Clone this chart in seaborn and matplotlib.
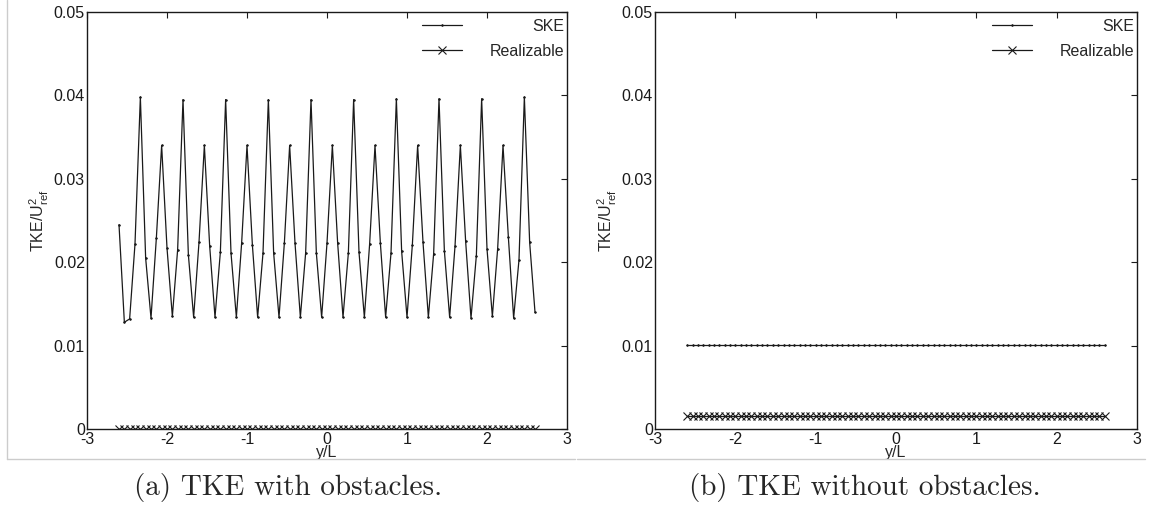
import matplotlib
matplotlib.use("Agg")
import matplotlib.pyplot as plt
from matplotlib.lines import Line2D
import seaborn as sns

# y/L stations (same grid for all series)
y_over_L = [
    -2.600, -2.533, -2.467, -2.400, -2.333, -2.267, -2.200, -2.133, -2.067, -2.000,
    -1.933, -1.867, -1.800, -1.733, -1.667, -1.600, -1.533, -1.467, -1.400, -1.333,
    -1.267, -1.200, -1.133, -1.067, -1.000, -0.933, -0.867, -0.800, -0.733, -0.667,
    -0.600, -0.533, -0.467, -0.400, -0.333, -0.267, -0.200, -0.133, -0.067, 0.000,
    0.067, 0.133, 0.200, 0.267, 0.333, 0.400, 0.467, 0.533, 0.600, 0.667,
    0.733, 0.800, 0.867, 0.933, 1.000, 1.067, 1.133, 1.200, 1.267, 1.333,
    1.400, 1.467, 1.533, 1.600, 1.667, 1.733, 1.800, 1.867, 1.933, 2.000,
    2.067, 2.133, 2.200, 2.267, 2.333, 2.400, 2.467, 2.533, 2.600,
]

# (a) with obstacles
ske_obst = [
    0.0245, 0.0128, 0.0132, 0.0222, 0.0398, 0.0205, 0.0133, 0.0229, 0.0340, 0.0217,
    0.0135, 0.0215, 0.0395, 0.0209, 0.0134, 0.0224, 0.0340, 0.0220, 0.0134, 0.0212,
    0.0395, 0.0211, 0.0134, 0.0223, 0.0340, 0.0221, 0.0134, 0.0211, 0.0395, 0.0211,
    0.0134, 0.0223, 0.0340, 0.0223, 0.0134, 0.0211, 0.0395, 0.0211, 0.0134, 0.0223,
    0.0340, 0.0223, 0.0134, 0.0211, 0.0395, 0.0212, 0.0134, 0.0222, 0.0340, 0.0223,
    0.0134, 0.0211, 0.0396, 0.0213, 0.0134, 0.0221, 0.0340, 0.0224, 0.0134, 0.0210,
    0.0396, 0.0214, 0.0134, 0.0219, 0.0340, 0.0225, 0.0133, 0.0208, 0.0396, 0.0216,
    0.0135, 0.0216, 0.0340, 0.0230, 0.0133, 0.0203, 0.0398, 0.0224, 0.0140,
]
rke_obst = [
    0.0, 0.0, 0.0, 0.0, 0.0, 0.0, 0.0, 0.0, 0.0, 0.0,
    0.0, 0.0, 0.0, 0.0, 0.0, 0.0, 0.0, 0.0, 0.0, 0.0,
    0.0, 0.0, 0.0, 0.0, 0.0, 0.0, 0.0, 0.0, 0.0, 0.0,
    0.0, 0.0, 0.0, 0.0, 0.0, 0.0, 0.0, 0.0, 0.0, 0.0,
    0.0, 0.0, 0.0, 0.0, 0.0, 0.0, 0.0, 0.0, 0.0, 0.0,
    0.0, 0.0, 0.0, 0.0, 0.0, 0.0, 0.0, 0.0, 0.0, 0.0,
    0.0, 0.0, 0.0, 0.0, 0.0, 0.0, 0.0, 0.0, 0.0, 0.0,
    0.0, 0.0, 0.0, 0.0, 0.0, 0.0, 0.0, 0.0, 0.0,
]

# (b) without obstacles
ske_free = [
    0.0101, 0.0101, 0.0101, 0.0101, 0.0101, 0.0101, 0.0101, 0.0101, 0.0101, 0.0101,
    0.0101, 0.0101, 0.0101, 0.0101, 0.0101, 0.0101, 0.0101, 0.0101, 0.0101, 0.0101,
    0.0101, 0.0101, 0.0101, 0.0101, 0.0101, 0.0101, 0.0101, 0.0101, 0.0101, 0.0101,
    0.0101, 0.0101, 0.0101, 0.0101, 0.0101, 0.0101, 0.0101, 0.0101, 0.0101, 0.0101,
    0.0101, 0.0101, 0.0101, 0.0101, 0.0101, 0.0101, 0.0101, 0.0101, 0.0101, 0.0101,
    0.0101, 0.0101, 0.0101, 0.0101, 0.0101, 0.0101, 0.0101, 0.0101, 0.0101, 0.0101,
    0.0101, 0.0101, 0.0101, 0.0101, 0.0101, 0.0101, 0.0101, 0.0101, 0.0101, 0.0101,
    0.0101, 0.0101, 0.0101, 0.0101, 0.0101, 0.0101, 0.0101, 0.0101, 0.0101,
]
rke_free = [
    0.0015, 0.0015, 0.0015, 0.0015, 0.0015, 0.0015, 0.0015, 0.0015, 0.0015, 0.0015,
    0.0015, 0.0015, 0.0015, 0.0015, 0.0015, 0.0015, 0.0015, 0.0015, 0.0015, 0.0015,
    0.0015, 0.0015, 0.0015, 0.0015, 0.0015, 0.0015, 0.0015, 0.0015, 0.0015, 0.0015,
    0.0015, 0.0015, 0.0015, 0.0015, 0.0015, 0.0015, 0.0015, 0.0015, 0.0015, 0.0015,
    0.0015, 0.0015, 0.0015, 0.0015, 0.0015, 0.0015, 0.0015, 0.0015, 0.0015, 0.0015,
    0.0015, 0.0015, 0.0015, 0.0015, 0.0015, 0.0015, 0.0015, 0.0015, 0.0015, 0.0015,
    0.0015, 0.0015, 0.0015, 0.0015, 0.0015, 0.0015, 0.0015, 0.0015, 0.0015, 0.0015,
    0.0015, 0.0015, 0.0015, 0.0015, 0.0015, 0.0015, 0.0015, 0.0015, 0.0015,
]

x_ticks = [-3, -2, -1, 0, 1, 2, 3]
y_ticks = [0, 0.01, 0.02, 0.03, 0.04, 0.05]
y_tick_labels = ["0", "0.01", "0.02", "0.03", "0.04", "0.05"]
captions = ["(a) TKE with obstacles.", "(b) TKE without obstacles."]

sns.set_theme(style="white")
plt.rcParams["font.family"] = ["Liberation Sans", "DejaVu Sans"]
plt.rcParams["axes.unicode_minus"] = False
plt.rcParams["mathtext.fontset"] = "custom"
plt.rcParams["mathtext.rm"] = "Liberation Sans"
plt.rcParams["mathtext.it"] = "Liberation Sans:italic"

fig = plt.figure(figsize=(11.5, 5.11), dpi=100)
ax1 = fig.add_axes([87 / 1150, 82 / 511, 480 / 1150, 417 / 511])
ax2 = fig.add_axes([655 / 1150, 82 / 511, 482 / 1150, 417 / 511])

panels = [(ax1, ske_obst, rke_obst), (ax2, ske_free, rke_free)]
for ax, ske, rke in panels:
    sns.lineplot(x=y_over_L, y=ske, ax=ax, color="k", lw=0.9, marker=".",
                 ms=2.5, mec="k", mew=0.5, label="SKE", sort=False, estimator=None)
    sns.lineplot(x=y_over_L, y=rke, ax=ax, color="k", lw=0.9, marker="x",
                 ms=5.5, mec="k", mew=0.8, label="Realizable", sort=False,
                 estimator=None)
    ax.set_xlim(-3, 3)
    ax.set_ylim(0, 0.05)
    ax.set_xticks(x_ticks)
    ax.set_xticklabels([str(t) for t in x_ticks])
    ax.set_yticks(y_ticks)
    ax.set_yticklabels(y_tick_labels)
    ax.tick_params(direction="in", top=True, right=True, length=4, width=0.8,
                   labelsize=11.5, pad=1.5, colors="k")
    ax.tick_params(axis="x", pad=2)
    for sp in ax.spines.values():
        sp.set_visible(True)
        sp.set_color("k")
        sp.set_linewidth(1.0)
    ax.set_xlabel("y/L", fontsize=11.5, labelpad=-1)
    ax.set_ylabel(r"TKE/U$^2_{\mathrm{ref}}$", fontsize=11.5, labelpad=2)

    leg = ax.legend(loc="upper right", bbox_to_anchor=(0.994, 0.984), frameon=False,
                    fontsize=11.5, handlelength=2.5, handletextpad=0.5,
                    borderpad=0.0, borderaxespad=0.0, labelspacing=0.65)
    # MATLAB-style legend: handles aligned left, labels aligned right
    col = leg._legend_handle_box.get_children()[0]
    col.set_width(142)
    for row in col.get_children():
        row.mode = "expand"

# subfigure frames and captions
grey = "#cccccc"
fig.add_artist(Line2D([7 / 1150, 7 / 1150], [1.0, 52 / 511], color=grey, lw=1))
fig.add_artist(Line2D([7 / 1150, 575 / 1150], [52 / 511, 52 / 511], color=grey, lw=1))
fig.add_artist(Line2D([577 / 1150, 1145 / 1150], [52 / 511, 52 / 511], color=grey, lw=1))
fig.text(288 / 1150, 1 - 487 / 511, captions[0], ha="center", va="center",
         fontsize=21, family="cmr10")
fig.text(865 / 1150, 1 - 487 / 511, captions[1], ha="center", va="center",
         fontsize=21, family="cmr10")

fig.savefig("out.png", dpi=100)
